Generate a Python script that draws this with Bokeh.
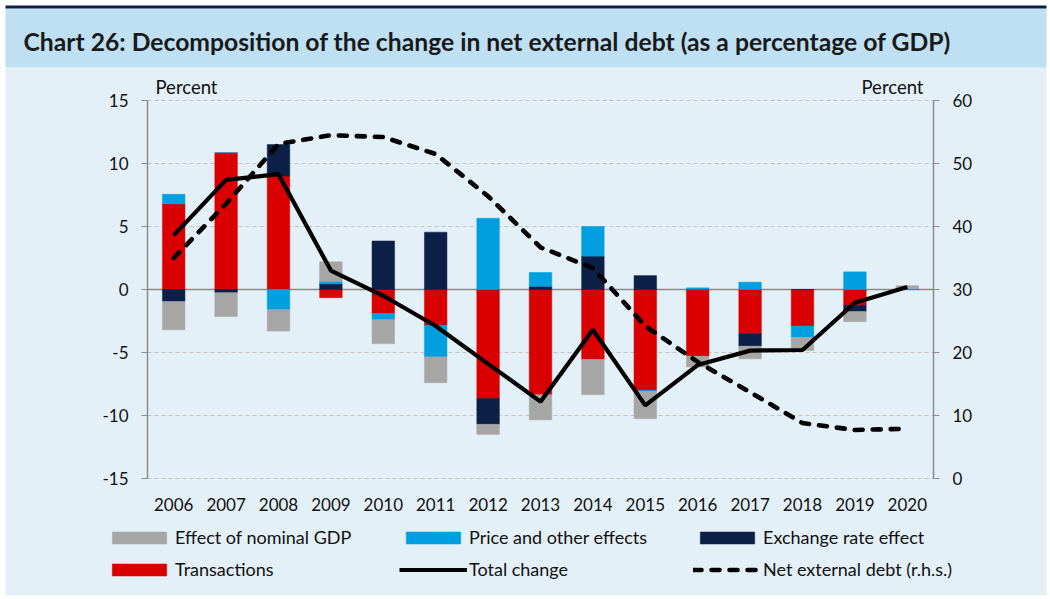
import numpy as np
from bokeh.plotting import figure
from bokeh.models import (Range1d, LinearAxis, FixedTicker, Legend, LegendItem,
                          Label, BoxAnnotation)
from bokeh.embed import file_html
from bokeh.resources import INLINE

years = ["2006", "2007", "2008", "2009", "2010", "2011", "2012", "2013",
         "2014", "2015", "2016", "2017", "2018", "2019", "2020"]
transactions = [6.8, 10.85, 9.0, -0.65, -1.9, -2.85, -8.65, -8.35, -5.55, -8.0, -5.3, -3.5, -2.9, -1.25, 0.0]
exchange_rate = [-0.95, -0.25, 2.5, 0.45, 3.85, 4.55, -2.05, 0.25, 2.65, 1.1, 0.0, -1.0, 0.0, -0.5, 0.0]
price_other = [0.75, 0.0, -1.6, 0.2, -0.5, -2.5, 5.65, 1.1, 2.35, -0.1, 0.13, 0.58, -0.9, 1.4, 0.05]
nominal_gdp = [-2.25, -1.9, -1.7, 1.55, -1.9, -2.05, -0.8, -2.0, -2.8, -2.15, -0.85, -1.0, -1.05, -0.8, 0.25]
total_change = [4.3, 8.7, 9.15, 1.5, -0.5, -2.9, -5.9, -8.9, -3.2, -9.2, -6.0, -4.85, -4.8, -1.05, 0.2]
net_external_debt = [35.0, 43.6, 53.1, 54.5, 54.2, 51.5, 44.8, 36.7, 33.4, 24.2, 18.5, 13.7, 8.8, 7.7, 7.9]
left_ticks = [-15, -10, -5, 0, 5, 10, 15]
right_ticks = [0, 10, 20, 30, 40, 50, 60]

title_text = "Chart 26: Decomposition of the change in net external debt (as a percentage of GDP)"

BG = "#E3F0F7"
BAND = "#BEE0F2"
TOPLINE = "#0C1F47"
RED = "#DA0000"
NAVY = "#0C1F47"
BLUE = "#009FE0"
GRAY = "#A6A6A6"
AXIS = "#8A8A8A"
FONT = "Lato"
TXT = "#111111"

# canvas geometry (pixels, from the top-left corner)
W, H = 1050, 599
PLOT_L, PLOT_R = 147, 933
PLOT_T, PLOT_B = 100, 478
BOX_L, BOX_R, BOX_T, BOX_B = 5, 1046, 5, 595
LINE_B, BAND_B = 8, 67

n = len(years)
x = np.arange(n) + 0.5

lo, hi = left_ticks[0], left_ticks[-1]
rlo, rhi = right_ticks[0], right_ticks[-1]
ppx = (PLOT_R - PLOT_L) / n
ppu = (PLOT_B - PLOT_T) / (hi - lo)
rppu = (PLOT_B - PLOT_T) / (rhi - rlo)


def px_x(px):
    return (px - PLOT_L) / ppx


def px_y(py):
    return hi - (py - PLOT_T) / ppu


x_range = Range1d(px_x(0), px_x(W))
y_range = Range1d(px_y(H), px_y(0))
rhs_range = Range1d(rlo - (H - PLOT_B) / rppu, rhi + PLOT_T / rppu)

p = figure(width=W, height=H, output_backend="svg", toolbar_location=None,
           x_range=x_range, y_range=y_range,
           x_axis_location=None, y_axis_location=None, min_border=0)
p.background_fill_color = "white"
p.border_fill_color = "white"
p.outline_line_color = None
p.xgrid.visible = False
p.ygrid.visible = False
p.extra_y_ranges = {"rhs": rhs_range}

# panel background, title band and top rule
for top, bottom, col in [(BAND_B, BOX_B, BG), (LINE_B, BAND_B, BAND), (BOX_T, LINE_B, TOPLINE)]:
    p.add_layout(BoxAnnotation(left=px_x(BOX_L), right=px_x(BOX_R),
                               top=px_y(top), bottom=px_y(bottom),
                               fill_color=col, fill_alpha=1.0, line_alpha=0,
                               level="underlay"))

p.add_layout(Label(x=px_x(23), y=px_y(41), text=title_text, text_font=FONT,
                   text_font_size="24.7px", text_font_style="bold",
                   text_color="#1A1A1A", text_baseline="alphabetic"))

# grid lines and zero line
gt = [t for t in left_ticks if t != 0]
p.segment(x0=[0] * len(gt), x1=[n] * len(gt), y0=gt, y1=gt,
          line_color="#C3C3C3", line_dash="4 3", line_width=1)
p.segment(x0=[0], x1=[n], y0=[0], y1=[0], line_color=AXIS, line_width=1.5)

# stacked bars (positive and negative parts stacked separately)
series = [(transactions, RED, "Transactions"),
          (exchange_rate, NAVY, "Exchange rate effect"),
          (price_other, BLUE, "Price and other effects"),
          (nominal_gdp, GRAY, "Effect of nominal GDP")]
pos = np.zeros(n)
neg = np.zeros(n)
rends = {}
for vals, col, name in series:
    v = np.array(vals, dtype=float)
    bottom = np.where(v >= 0, pos, neg)
    top = bottom + v
    pos = np.where(v >= 0, top, pos)
    neg = np.where(v < 0, top, neg)
    rends[name] = p.vbar(x=x, bottom=bottom, top=top, width=0.43, fill_color=col,
                         line_color=col, line_width=0.5)

r_total = p.line(x, total_change, line_color="black", line_width=4.2)
r_debt = p.line(x, net_external_debt, y_range_name="rhs", line_color="black",
                line_width=4.6, line_dash="8 10", line_cap="round")


def style_y(a, standoff):
    a.axis_line_color = AXIS
    a.axis_line_width = 1.5
    a.major_tick_line_color = AXIS
    a.major_tick_line_width = 1.2
    a.major_tick_out = 6
    a.major_tick_in = 0
    a.minor_tick_line_color = None
    a.major_label_text_font = FONT
    a.major_label_text_font_size = "17px"
    a.major_label_text_color = TXT
    a.major_label_standoff = standoff


lax = LinearAxis(ticker=FixedTicker(ticks=left_ticks), fixed_location=0,
                 bounds=(lo, hi),
                 major_label_overrides={t: str(t) for t in left_ticks})
style_y(lax, 13)
p.add_layout(lax, "left")

rax = LinearAxis(y_range_name="rhs", ticker=FixedTicker(ticks=right_ticks),
                 fixed_location=n, bounds=(rlo, rhi))
style_y(rax, 13)
p.add_layout(rax, "right")

xa = LinearAxis(ticker=FixedTicker(ticks=list(x)), fixed_location=lo,
                major_label_overrides={float(xi): yr for xi, yr in zip(x, years)})
xa.axis_line_color = None
xa.major_tick_line_color = None
xa.minor_tick_line_color = None
xa.major_label_text_font = FONT
xa.major_label_text_font_size = "17px"
xa.major_label_text_color = TXT
xa.major_label_standoff = 13
p.add_layout(xa, "below")

p.add_layout(Label(x=px_x(155), y=px_y(86), text="Percent",
                   text_font=FONT, text_font_size="18.5px", text_color=TXT,
                   text_baseline="alphabetic"))
p.add_layout(Label(x=px_x(923), y=px_y(86), text="Percent",
                   text_font=FONT, text_font_size="18.5px", text_color=TXT,
                   text_baseline="alphabetic", text_align="right"))

legend = Legend(items=[
    LegendItem(label="Effect of nominal GDP", renderers=[rends["Effect of nominal GDP"]]),
    LegendItem(label="Price and other effects", renderers=[rends["Price and other effects"]]),
    LegendItem(label="Exchange rate effect", renderers=[rends["Exchange rate effect"]]),
    LegendItem(label="Transactions", renderers=[rends["Transactions"]]),
    LegendItem(label="Total change", renderers=[r_total]),
    LegendItem(label="Net external debt (r.h.s.)", renderers=[r_debt]),
], location=(105, 19), orientation="horizontal", ncols=3,
    glyph_width=68, glyph_height=15, label_width=214, label_height=21,
    spacing=10, label_standoff=2, padding=0, margin=0,
    background_fill_alpha=0, border_line_alpha=0,
    label_text_font=FONT, label_text_font_size="18px", label_text_color=TXT)
p.add_layout(legend)

open("out.html", "w").write(file_html(p, INLINE))
